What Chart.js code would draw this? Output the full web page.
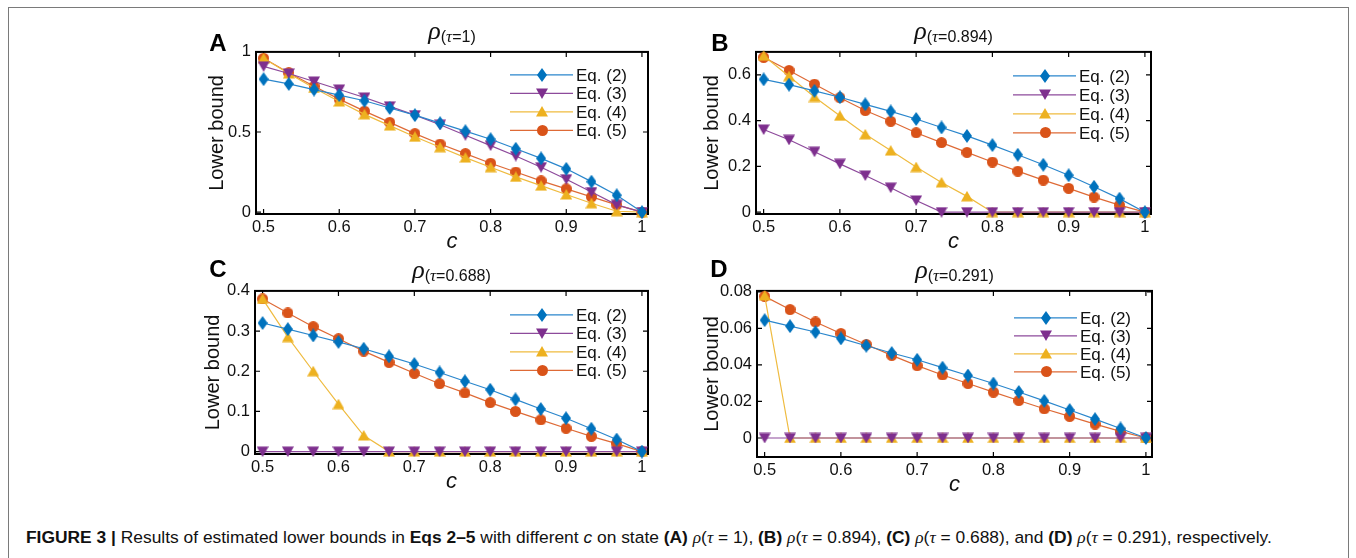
<!DOCTYPE html>
<html>
<head>
<meta charset="utf-8">
<script src="https://cdn.jsdelivr.net/npm/chart.js@4.4.0/dist/chart.umd.min.js"></script>
<style>
    body { margin: 0; background: #fff; width: 1356px; height: 558px; overflow: hidden; position: relative; font-family: 'Liberation Sans', Arial, sans-serif; color: #000; }
    .frame { position: absolute; left: 8px; top: 7px; width: 1339px; height: 600px; border: 1px solid #7a7a7a; }
    .panel { position: absolute; }
    .letter { position: absolute; font-weight: bold; font-size: 24px; transform: translate(-50%, -50%); }
    .ptitle { position: absolute; transform: translateX(-50%); white-space: nowrap; line-height: 1; color: #111; }
    .ptitle .rho { font-family: 'Liberation Serif', serif; font-style: italic; font-size: 26px; }
    .ptitle .sub { font-size: 16px; position: relative; top: 3px; }
    .ptitle .tau { font-family: 'Liberation Serif', serif; font-style: italic; font-size: 17px; }
    .caption { position: absolute; left: 26px; top: 527px; font-size: 17.4px; white-space: nowrap; color: #111; }
    .caption i.g { font-family: 'Liberation Serif', serif; }
</style>
</head>
<body>
<div class="frame"></div>
<div class="caption"><b>FIGURE 3 |</b> Results of estimated lower bounds in <b>Eqs 2–5</b> with different <i>c</i> on state <b>(A)</b> <i class="g">ρ</i>(<i class="g">τ</i> = 1), <b>(B)</b> <i class="g">ρ</i>(<i class="g">τ</i> = 0.894), <b>(C)</b> <i class="g">ρ</i>(<i class="g">τ</i> = 0.688), and <b>(D)</b> <i class="g">ρ</i>(<i class="g">τ</i> = 0.291), respectively.</div>
<script>
// 数据
const cValues = [0.5, 0.5333, 0.5667, 0.6, 0.6333, 0.6667, 0.7, 0.7333, 0.7667, 0.8, 0.8333, 0.8667, 0.9, 0.9333, 0.9667, 1];
const seriesNames = ['Eq. (2)', 'Eq. (3)', 'Eq. (4)', 'Eq. (5)'];
const xTicks = [0.5, 0.6, 0.7, 0.8, 0.9, 1];

// panel A: tau = 1
const eq2A = [0.83, 0.80, 0.765, 0.73, 0.695, 0.65, 0.605, 0.555, 0.505, 0.455, 0.395, 0.335, 0.27, 0.19, 0.105, 0];
const eq3A = [0.91, 0.865, 0.815, 0.765, 0.715, 0.66, 0.605, 0.545, 0.48, 0.415, 0.35, 0.28, 0.205, 0.125, 0.045, 0];
const eq4A = [0.96, 0.865, 0.775, 0.69, 0.61, 0.54, 0.47, 0.405, 0.34, 0.28, 0.22, 0.165, 0.11, 0.055, 0.005, 0];
const eq5A = [0.96, 0.87, 0.785, 0.705, 0.63, 0.56, 0.49, 0.425, 0.365, 0.305, 0.25, 0.195, 0.145, 0.095, 0.045, 0];
const yTicksA = [0, 0.5, 1];

// panel B: tau = 0.894
const eq2B = [0.58, 0.557, 0.53, 0.502, 0.471, 0.44, 0.407, 0.37, 0.333, 0.293, 0.251, 0.207, 0.161, 0.111, 0.059, 0];
const eq3B = [0.361, 0.316, 0.264, 0.211, 0.16, 0.107, 0.051, 0, 0, 0, 0, 0, 0, 0, 0, 0];
const eq4B = [0.683, 0.594, 0.503, 0.421, 0.34, 0.269, 0.197, 0.13, 0.069, 0, 0, 0, 0, 0, 0, 0];
const eq5B = [0.676, 0.619, 0.559, 0.5, 0.444, 0.397, 0.347, 0.304, 0.261, 0.219, 0.179, 0.14, 0.104, 0.066, 0.031, 0];
const yTicksB = [0, 0.2, 0.4, 0.6];

// panel C: tau = 0.688
const eq2C = [0.32, 0.305, 0.289, 0.273, 0.256, 0.237, 0.218, 0.197, 0.175, 0.154, 0.13, 0.106, 0.083, 0.057, 0.03, 0];
const eq3C = [0, 0, 0, 0, 0, 0, 0, 0, 0, 0, 0, 0, 0, 0, 0, 0];
const eq4C = [0.38, 0.285, 0.2, 0.118, 0.04, 0, 0, 0, 0, 0, 0, 0, 0, 0, 0, 0];
const eq5C = [0.38, 0.345, 0.311, 0.281, 0.25, 0.222, 0.195, 0.169, 0.146, 0.122, 0.1, 0.079, 0.058, 0.038, 0.02, 0];
const yTicksC = [0, 0.1, 0.2, 0.3, 0.4];

// panel D: tau = 0.291
const eq2D = [0.0645, 0.0612, 0.058, 0.0545, 0.0505, 0.0465, 0.0428, 0.0385, 0.0342, 0.0298, 0.0252, 0.0203, 0.0153, 0.0103, 0.0052, 0];
const eq3D = [0, 0, 0, 0, 0, 0, 0, 0, 0, 0, 0, 0, 0, 0, 0, 0];
const eq4D = [0.078, 0, 0, 0, 0, 0, 0, 0, 0, 0, 0, 0, 0, 0, 0, 0];
const eq5D = [0.0775, 0.0703, 0.0635, 0.0572, 0.0512, 0.0452, 0.0396, 0.0345, 0.0298, 0.0251, 0.0205, 0.016, 0.0118, 0.0076, 0.0036, 0];
const yTicksD = [0, 0.02, 0.04, 0.06, 0.08];

// 样式
const colors = ['#0072BD', '#7E2F8E', '#EDB120', '#D95319'];
const lineColors = ['#2a86cc', '#8d4a9b', '#efbb3f', '#de6a36'];
const shapes = ['diamond', 'down', 'up', 'circle'];
const FONT = "'Liberation Sans', Arial, sans-serif";

// 布局 (plot box in page pixels)
const panels = [
    { letter: 'A', tau: '1', left: 256, top: 49, right: 648, bottom: 214, yMin: -0.012, yMax: 1, yTicks: yTicksA, series: [eq2A, eq3A, eq4A, eq5A], lx: 218, ly: 43, yTitleGap: 39, legTop: 23, legGap: 18.5 },
    { letter: 'B', tau: '0.894', left: 756, top: 49, right: 1151, bottom: 214, yMin: -0.008, yMax: 0.7, yTicks: yTicksB, series: [eq2B, eq3B, eq4B, eq5B], lx: 720, ly: 43, yTitleGap: 44, legTop: 24, legGap: 19 },
    { letter: 'C', tau: '0.688', left: 255, top: 288, right: 648, bottom: 454, yMin: -0.006, yMax: 0.4, yTicks: yTicksC, series: [eq2C, eq3C, eq4C, eq5C], lx: 218, ly: 269, yTitleGap: 42, legTop: 24, legGap: 18.5 },
    { letter: 'D', tau: '0.291', left: 757, top: 288, right: 1152, bottom: 457, yMin: -0.0104, yMax: 0.0805, yTicks: yTicksD, series: [eq2D, eq3D, eq4D, eq5D], lx: 719, ly: 269, yTitleGap: 45, legTop: 27, legGap: 18 }
];

// 标记图形
function makeMarker(shape, color) {
    const size = { diamond: [10, 14], down: [12, 11], up: [12, 11], circle: [11, 11] }[shape];
    const c = document.createElement('canvas');
    c.width = size[0];
    c.height = size[1];
    const g = c.getContext('2d');
    const w = size[0], h = size[1];
    g.fillStyle = color;
    g.beginPath();
    if (shape === 'diamond') {
        g.moveTo(w / 2, 0); g.lineTo(w, h / 2); g.lineTo(w / 2, h); g.lineTo(0, h / 2);
    } else if (shape === 'down') {
        g.moveTo(0, 0.5); g.lineTo(w, 0.5); g.lineTo(w / 2, h);
    } else if (shape === 'up') {
        g.moveTo(w / 2, 0); g.lineTo(w, h - 0.5); g.lineTo(0, h - 0.5);
    } else {
        g.arc(w / 2, h / 2, w / 2, 0, Math.PI * 2);
    }
    g.closePath();
    g.fill();
    return c;
}
const markers = shapes.map((s, i) => makeMarker(s, colors[i]));

// 坐标框和内向刻度
const boxPlugin = {
    id: 'box',
    beforeDatasetsDraw(chart) {
        const { ctx, chartArea: a, scales: { x, y } } = chart;
        ctx.save();
        ctx.strokeStyle = '#000';
        ctx.lineWidth = 1.2;
        ctx.beginPath();
        xTicks.forEach(v => {
            const px = x.getPixelForValue(v);
            ctx.moveTo(px, a.bottom); ctx.lineTo(px, a.bottom - 5);
            ctx.moveTo(px, a.top); ctx.lineTo(px, a.top + 5);
        });
        y.ticks.forEach(t => {
            const py = y.getPixelForValue(t.value);
            ctx.moveTo(a.left, py); ctx.lineTo(a.left + 5, py);
            ctx.moveTo(a.right, py); ctx.lineTo(a.right - 5, py);
        });
        ctx.stroke();
        ctx.lineWidth = 2;
        ctx.strokeRect(a.left, a.top, a.right - a.left, a.bottom - a.top);
        ctx.restore();
    }
};

// 图例 (line + marker + text)
const legendPlugin = {
    id: 'eqLegend',
    afterDatasetsDraw(chart, args, opts) {
        const { ctx, chartArea: a } = chart;
        ctx.save();
        chart.data.datasets.forEach((ds, i) => {
            const yy = a.top + opts.top + i * opts.gap;
            ctx.strokeStyle = ds.borderColor;
            ctx.lineWidth = 1.2;
            ctx.beginPath();
            ctx.moveTo(a.right - 138, yy);
            ctx.lineTo(a.right - 75, yy);
            ctx.stroke();
            const m = ds.pointStyle;
            ctx.drawImage(m, Math.round(a.right - 106 - m.width / 2), Math.round(yy - m.height / 2));
            ctx.fillStyle = '#111';
            ctx.font = '17px ' + FONT;
            ctx.textBaseline = 'middle';
            ctx.fillText(ds.label, a.right - 72, yy + 1);
        });
        ctx.restore();
    }
};

function makePanel(p) {
    const padTop = 12, padRight = 14, yAxisW = 64, xAxisH = 46;
    const w = (p.right - p.left) + yAxisW + padRight;
    const h = (p.bottom - p.top) + padTop + xAxisH;

    const box = document.createElement('div');
    box.className = 'panel';
    box.style.left = (p.left - yAxisW) + 'px';
    box.style.top = (p.top - padTop) + 'px';
    box.style.width = w + 'px';
    box.style.height = h + 'px';
    const canvas = document.createElement('canvas');
    canvas.width = w;
    canvas.height = h;
    box.appendChild(canvas);
    document.body.appendChild(box);

    // 标题和字母
    const t = document.createElement('div');
    t.className = 'ptitle';
    t.style.left = ((p.left + p.right) / 2) + 'px';
    t.style.top = (p.top - 31) + 'px';
    t.innerHTML = '<span class="rho">ρ</span><span class="sub">(<span class="tau">τ</span>=' + p.tau + ')</span>';
    document.body.appendChild(t);
    const l = document.createElement('div');
    l.className = 'letter';
    l.style.left = p.lx + 'px';
    l.style.top = p.ly + 'px';
    l.textContent = p.letter;
    document.body.appendChild(l);

    new Chart(canvas, {
        type: 'line',
        data: {
            datasets: seriesNames.map((name, i) => ({
                label: name,
                data: cValues.map((c, j) => ({ x: c, y: p.series[i][j] })),
                borderColor: lineColors[i],
                borderWidth: 1.2,
                pointStyle: markers[i],
                pointRadius: 6,
                pointHoverRadius: 6,
                tension: 0,
                clip: false
            }))
        },
        options: {
            responsive: false,
            animation: false,
            events: [],
            layout: { padding: { top: padTop, right: padRight, left: 0, bottom: 0 } },
            plugins: {
                legend: { display: false },
                tooltip: { enabled: false },
                eqLegend: { top: p.legTop, gap: p.legGap }
            },
            scales: {
                x: {
                    type: 'linear',
                    min: 0.49,
                    max: 1.008,
                    grid: { display: false, drawTicks: false },
                    border: { display: false },
                    afterBuildTicks: s => { s.ticks = xTicks.map(v => ({ value: v })); },
                    afterFit: s => { s.height = xAxisH; },
                    ticks: { callback: v => String(v), font: { size: 16.5, family: FONT }, color: '#111', padding: 4, maxRotation: 0, autoSkip: false },
                    title: { display: true, text: 'c', color: '#111', font: { size: 22, style: 'italic', family: FONT }, padding: { top: 0, bottom: 5 } }
                },
                y: {
                    type: 'linear',
                    min: p.yMin,
                    max: p.yMax,
                    grid: { display: false, drawTicks: false },
                    border: { display: false },
                    afterBuildTicks: s => { s.ticks = p.yTicks.map(v => ({ value: v })); },
                    afterFit: s => { s.width = yAxisW; },
                    ticks: { callback: v => String(v), font: { size: 16.5, family: FONT }, color: '#111', padding: 5, autoSkip: false },
                    title: { display: true, text: 'Lower bound', color: '#111', font: { size: 20, family: FONT }, padding: { top: yAxisW - p.yTitleGap - 12, bottom: 0 } }
                }
            }
        },
        plugins: [boxPlugin, legendPlugin]
    });
}

panels.forEach(makePanel);
</script>
</body>
</html>
